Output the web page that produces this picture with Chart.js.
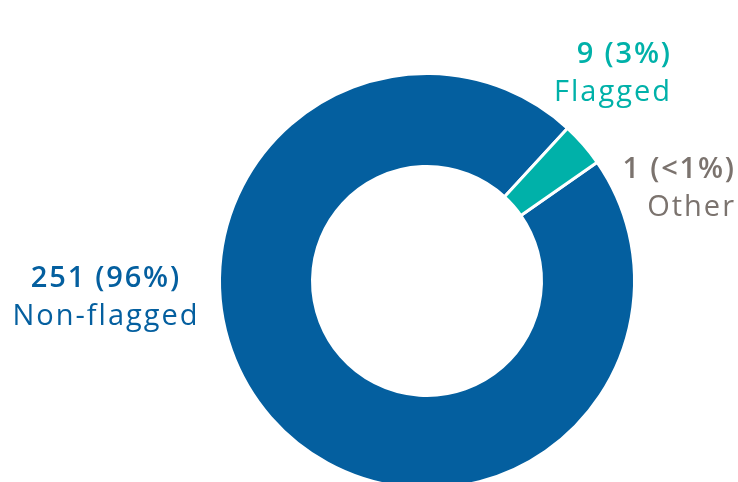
<!DOCTYPE html>
<html>
<head>
<meta charset="utf-8">
<script src="https://cdn.jsdelivr.net/npm/chart.js@4"></script>
<style>
    html, body { margin: 0; padding: 0; background: #fff; overflow: hidden; }
    #wrap { position: relative; width: 738px; height: 500px; }
</style>
</head>
<body>
<div id="wrap"><canvas id="chart-donat" width="738" height="500"></canvas></div>
<script>
// Data
const kategori = ['Non-flagged', 'Flagged', 'Other'];
const jumlah   = [251, 9, 1];
const persen   = ['96%', '3%', '<1%'];
const warna    = ['#045f9f', '#00b1a9', '#7b736e'];

// Label teks di luar cincin
const posisiLabel = [
    { x: 105, y: 287, align: 'center' },
    { x: 670, y: 63,  align: 'right' },
    { x: 734, y: 178, align: 'right' }
];

const FONT = '"Open Sans", "Noto Sans", sans-serif';

// tulis teks dengan spasi huruf, koreksi spasi ekor
function tulis(ctx, teks, x, y, align, spasi) {
    ctx.letterSpacing = spasi + 'px';
    const geser = align === 'right' ? spasi : (align === 'center' ? spasi / 2 : 0);
    ctx.textAlign = align;
    ctx.fillText(teks, x + geser, y);
}

const labelLuar = {
    id: 'labelLuar',
    afterDraw(chart) {
        const ctx = chart.ctx;
        ctx.save();
        ctx.textBaseline = 'alphabetic';
        kategori.forEach((nama, i) => {
            const p = posisiLabel[i];
            ctx.fillStyle = warna[i];
            ctx.font = '600 29px ' + FONT;
            tulis(ctx, jumlah[i] + ' (' + persen[i] + ')', p.x, p.y, p.align, 1.8);
            ctx.font = '29px ' + FONT;
            tulis(ctx, nama, p.x, p.y + 38, p.align, 2);
        });
        ctx.restore();
    }
};

// Posisi & ukuran cincin
const bw = 3;
const rLuar = 207.5, rDalam = 114.5;
const cx = 427, cy = 281;
const half = rLuar + bw / 2;

const chart = new Chart(document.getElementById('chart-donat'), {
    type: 'doughnut',
    data: {
        labels: kategori,
        datasets: [{
            data: jumlah,
            backgroundColor: warna,
            borderColor: '#ffffff',
            borderWidth: bw
        }]
    },
    options: {
        responsive: false,
        animation: false,
        rotation: 55.1,
        cutout: (rDalam / rLuar * 100) + '%',
        layout: {
            padding: {
                left: cx - half,
                top: cy - half,
                right: 738 - (cx + half),
                bottom: 500 - (cy + half)
            }
        },
        plugins: {
            legend: { display: false },
            tooltip: { enabled: false }
        }
    },
    plugins: [labelLuar]
});

// irisan "Other" terlalu tipis, tidak digambar di cincin (label tetap tampil)
chart.toggleDataVisibility(2);
chart.update();
</script>
</body>
</html>
